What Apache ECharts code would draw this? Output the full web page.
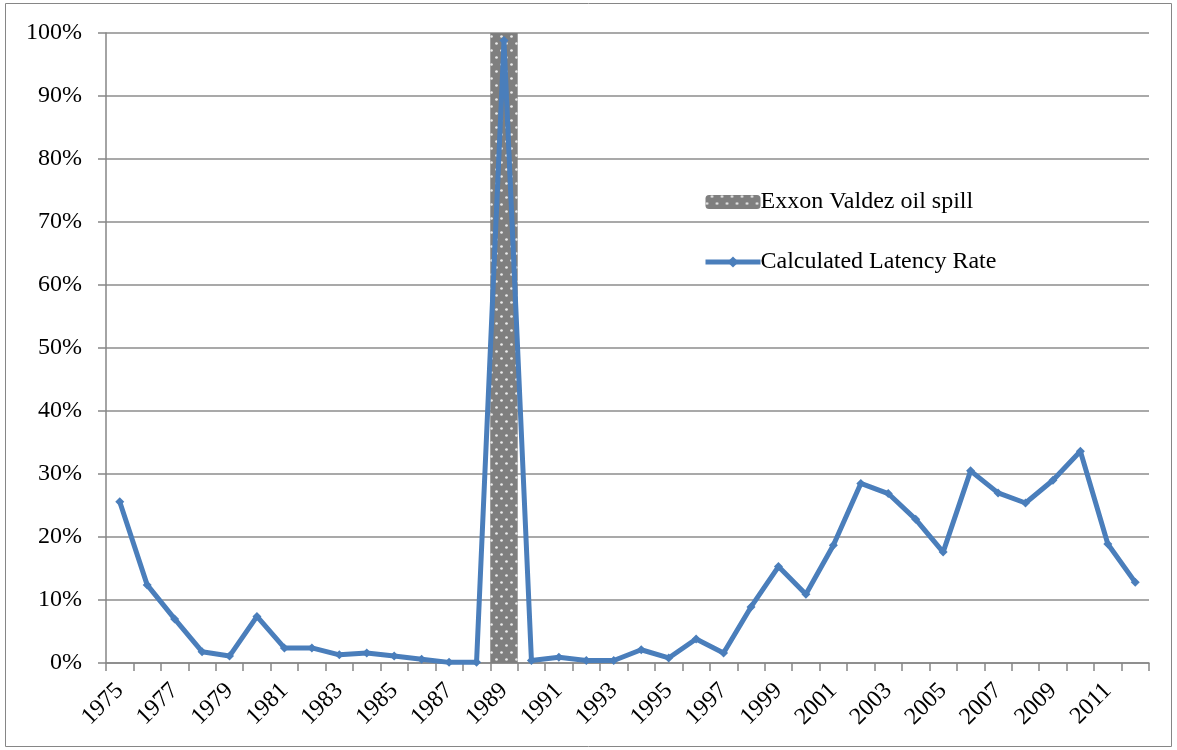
<!DOCTYPE html>
<html>
<head>
<meta charset="utf-8">
<script src="https://cdn.jsdelivr.net/npm/echarts@6/dist/echarts.min.js"></script>
<style>
html,body{margin:0;padding:0;background:#fff;}
#chart{width:1177px;height:750px;}
</style>
</head>
<body>
<div id="chart"></div>
<script>
var years = ['1975','1976','1977','1978','1979','1980','1981','1982','1983','1984','1985','1986','1987','1988','1989','1990','1991','1992','1993','1994','1995','1996','1997','1998','1999','2000','2001','2002','2003','2004','2005','2006','2007','2008','2009','2010','2011','2012'];
var latencyRate = [25.6,12.4,7.0,1.8,1.1,7.4,2.4,2.4,1.3,1.6,1.1,0.6,0.1,0.1,98.8,0.4,0.9,0.4,0.4,2.1,0.8,3.8,1.6,8.9,15.3,10.9,18.7,28.5,26.9,22.8,17.6,30.5,27.0,25.4,29.0,33.6,18.9,12.8];
var spill = ['-','-','-','-','-','-','-','-','-','-','-','-','-','-',100,'-','-','-','-','-','-','-','-','-','-','-','-','-','-','-','-','-','-','-','-','-','-','-'];
var yTicks = {min:0, max:100, interval:10};

var FONT = '"Liberation Serif", "DejaVu Serif", serif';
var chart = echarts.init(document.getElementById('chart'));
chart.setOption({
  animation:false,
  backgroundColor:'#fff',
  graphic:[{type:'rect', shape:{x:5.5,y:3.5,width:1166,height:743}, style:{fill:'none',stroke:'#868686',lineWidth:1}, silent:true}],
  grid:{left:106, right:28, top:33, bottom:87, containLabel:false},
  legend:{
    orient:'vertical', left:698, top:185, itemGap:36, itemWidth:55, itemHeight:14,
    textStyle:{fontFamily:FONT, fontSize:24, color:'#000', padding:[0,0,0,-5]},
    data:[
      {name:'Exxon Valdez oil spill'},
      {name:'Calculated Latency Rate', lineStyle:{width:5}}
    ]
  },
  xAxis:{
    type:'category', data:years, boundaryGap:true,
    axisLine:{lineStyle:{color:'#868686',width:1.5}},
    axisTick:{show:true, length:8, interval:0, lineStyle:{color:'#868686',width:1.5}},
    axisLabel:{interval:1, rotate:45, margin:24, fontFamily:FONT, fontSize:24, color:'#000'},
    splitLine:{show:false}
  },
  yAxis:{
    type:'value', min:yTicks.min, max:yTicks.max, interval:yTicks.interval,
    axisLine:{show:true, lineStyle:{color:'#868686',width:1.5}},
    axisTick:{show:true, length:8, lineStyle:{color:'#868686',width:1.5}},
    axisLabel:{formatter:'{value}%', margin:24, fontFamily:FONT, fontSize:24, color:'#000'},
    splitLine:{lineStyle:{color:'#8c8c8c',width:1.5}}
  },
  series:[
    {
      name:'Exxon Valdez oil spill', type:'bar', data:spill, barWidth:'100%', barCategoryGap:'0%',
      itemStyle:{color:'#7f7f7f',
        decal:{symbol:'circle', symbolSize:0.9, color:'rgba(240,240,240,0.95)',
          dashArrayX:[[3,7],[0,5,3,2]], dashArrayY:[3,3.5]}},
      z:1
    },
    {
      name:'Calculated Latency Rate', type:'line', data:latencyRate,
      symbol:'diamond', symbolSize:9, showSymbol:true,
      lineStyle:{color:'#4A7EBB', width:5},
      itemStyle:{color:'#4A7EBB'},
      z:3
    }
  ]
});
</script>
</body>
</html>
